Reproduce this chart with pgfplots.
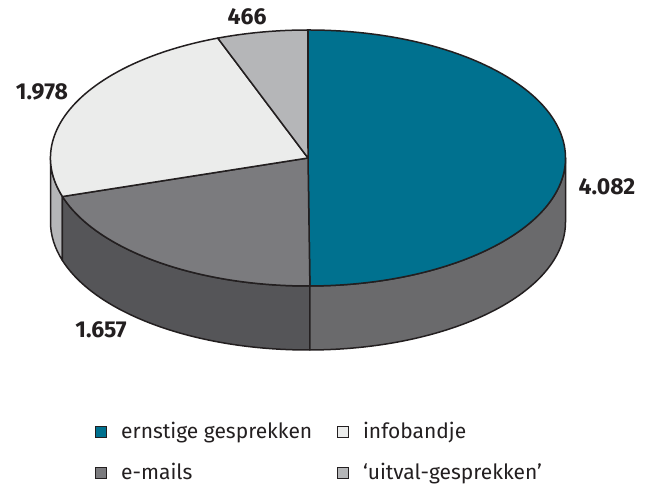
\documentclass[border=0pt]{standalone}
\usepackage{pgfplots}
\pgfplotsset{compat=1.18}
\usepackage{pgfplotstable}
\usepackage{fontspec}
\setmainfont{Fira Sans}
\definecolor{cBlue}{HTML}{00718F}
\definecolor{cBlueSide}{HTML}{6A6A6C}
\definecolor{cMail}{HTML}{7B7B7E}
\definecolor{cMailSide}{HTML}{555558}
\definecolor{cInfo}{HTML}{EBECEB}
\definecolor{cInfoSide}{HTML}{B5B6B8}
\definecolor{cUit}{HTML}{B5B6B8}
\definecolor{cLine}{HTML}{231F20}

\pgfplotstableread{
label value
ernstige 4082
emails 1657
infobandje 1978
uitval 466
}\piedata
\pgfplotstablegetelem{0}{value}\of\piedata \pgfmathsetmacro\va{\pgfplotsretval/1000}
\pgfplotstablegetelem{1}{value}\of\piedata \pgfmathsetmacro\vb{\pgfplotsretval/1000}
\pgfplotstablegetelem{2}{value}\of\piedata \pgfmathsetmacro\vc{\pgfplotsretval/1000}
\pgfplotstablegetelem{3}{value}\of\piedata \pgfmathsetmacro\vd{\pgfplotsretval/1000}
\pgfmathsetmacro\tot{\va+\vb+\vc+\vd}
\pgfmathsetmacro\aA{90}
\pgfmathsetmacro\aB{\aA-360*(\va/\tot)}
\pgfmathsetmacro\aC{\aB-360*(\vb/\tot)}
\pgfmathsetmacro\aD{\aC-360*(\vc/\tot)}
\pgfmathsetmacro\aE{\aD-360*(\vd/\tot)}
\pgfmathsetmacro\sB{\aB+360}
\pgfmathsetmacro\sC{\aC+360}

\newcommand\sideface[3]{%
  \filldraw[fill=#3, draw=cLine, line width=0.75pt, line join=round]
    (axis cs:{308+257.5*cos(#1)},{324+128*sin(#1)})
    arc[start angle=#1, end angle=#2, x radius=128.75pt, y radius=64pt]
    -- ++(0pt,-32pt)
    arc[start angle=#2, end angle=#1, x radius=128.75pt, y radius=64pt]
    -- cycle;}
\newcommand\topwedge[3]{%
  \filldraw[fill=#3, draw=cLine, line width=0.75pt, line join=round]
    (axis cs:308,324) -- (axis cs:{308+257.5*cos(#1)},{324+128*sin(#1)})
    arc[start angle=#1, end angle=#2, x radius=128.75pt, y radius=64pt]
    -- cycle;}

\begin{document}
\begin{tikzpicture}
\begin{axis}[
  width=324pt, height=241pt, scale only axis,
  xmin=0, xmax=648, ymin=0, ymax=482,
  hide axis, clip=false,
  legend columns=2,
  legend style={at={(axis cs:95,64)}, anchor=north west, draw=none, fill=none,
    inner sep=0pt, font=\fontsize{10.5}{12.5}\selectfont, text=cLine,
    cells={anchor=west}, row sep=6.5pt,
    /tikz/every odd column/.append style={column sep=5pt},
    /tikz/every even column/.append style={column sep=10.5pt}},
  legend image code/.code={\draw[#1, draw=cLine, line width=0.4pt] (0pt,-2.75pt) rectangle (5.5pt,2.75pt);},
]
\addlegendimage{fill=cBlue}
\addlegendentry{ernstige gesprekken}
\addlegendimage{fill=cInfo}
\addlegendentry{infobandje}
\addlegendimage{fill=cMail}
\addlegendentry{e-mails}
\addlegendimage{fill=cUit}
\addlegendentry{‘uitval-gesprekken’}

% side faces
\sideface{180}{\sC}{cInfoSide}
\sideface{\sC}{\sB}{cMailSide}
\sideface{\sB}{360}{cBlueSide}
% top faces
\topwedge{\aA}{\aB}{cBlue}
\topwedge{\aB}{\aC}{cMail}
\topwedge{\aC}{\aD}{cInfo}
\topwedge{\aD}{\aE}{cUit}

\begin{scope}[every node/.style={font=\bfseries\fontsize{11.5}{13}\selectfont, text=cLine}]
\node at (axis cs:607,295) {4.082};
\node at (axis cs:42,390) {1.978};
\node at (axis cs:101,152) {1.657};
\node at (axis cs:247,465) {466};
\end{scope}
\end{axis}
\useasboundingbox (0,0) rectangle (324pt,241pt);
\end{tikzpicture}
\end{document}
